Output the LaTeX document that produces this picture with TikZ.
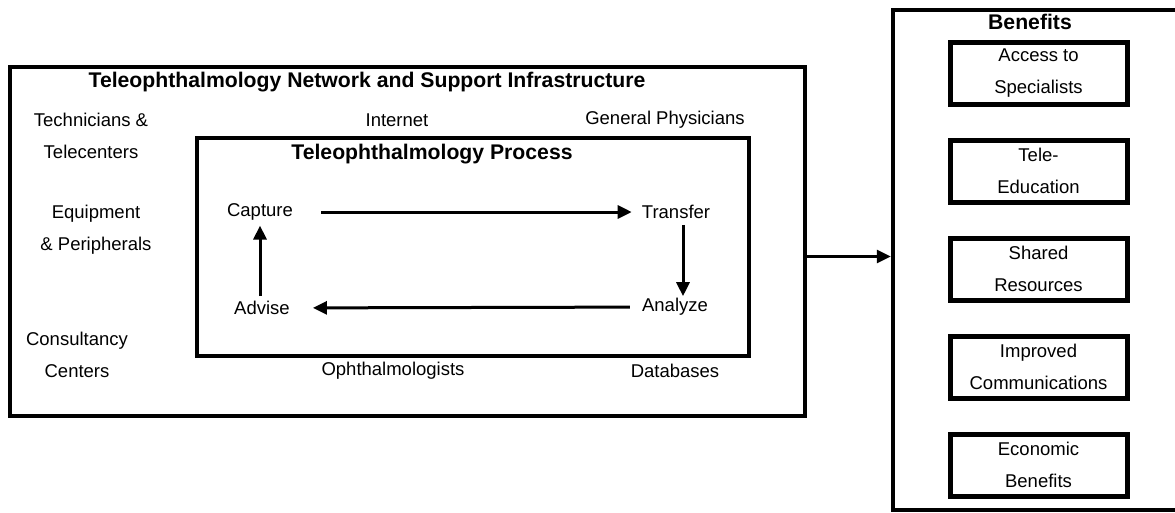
\documentclass[tikz,border=0pt]{standalone}
\usepackage{fontspec}
\setmainfont{Liberation Sans}
\usepackage{tikz}
\usetikzlibrary{arrows.meta, positioning}

\begin{document}
\begin{tikzpicture}[
        x=1pt, y=-1pt,
        >={Triangle[length=14pt, width=13pt]},
        every node/.style={font=\fontsize{18.5}{31.5}\selectfont},
        lbl/.style={align=center, inner sep=2pt},
        head/.style={font=\fontsize{21.2}{26}\selectfont\bfseries, inner sep=2pt},
        netbox/.style={rectangle, draw, line width=4.5pt, inner sep=0pt},
        itembox/.style={rectangle, draw, line width=5pt, align=center, minimum width=177pt, minimum height=62pt, inner sep=0pt},
        flow/.style={->, line width=3pt}
    ]
        \useasboundingbox (0,0) rectangle (1175,512);

        % boxes
        \node[netbox, minimum width=795pt, minimum height=349pt] (net) at (407.5,241.5) {};
        \node[netbox, minimum width=552pt, minimum height=218pt] (proc) at (473,247) {};
        \node[netbox, minimum width=300pt, minimum height=500pt] (ben) at (1043,260) {};

        % network and infrastructure
        \node[head] (nettitle) at (367,82) {Teleophthalmology Network and Support Infrastructure};
        \node[lbl] (tech) at (91,136) {Technicians \&\\Telecenters};
        \node[lbl] (equip) at (96,229.5) {Equipment\\\& Peripherals};
        \node[lbl] (consult) at (77,355) {Consultancy\\Centers};
        \node[lbl] (internet) at (397,120) {Internet};
        \node[lbl] (gp) at (665,120) {General Physicians};
        \node[lbl] (ophth) at (393,371) {Ophthalmologists};
        \node[lbl] (db) at (675,371) {Databases};

        % process
        \node[head] (proctitle) at (432,154) {Teleophthalmology Process};
        \node[lbl] (capture) at (260,212) {Capture};
        \node[lbl] (transfer) at (676,212) {Transfer};
        \node[lbl] (analyze) at (675,307) {Analyze};
        \node[lbl] (advise) at (262,308) {Advise};

        \draw[flow, shorten <=26pt, shorten >=8pt] (capture) -- (transfer);
        \draw[flow, shorten <=4pt, shorten >=0pt] ([xshift=7pt]transfer.south) -- ([xshift=8pt]analyze.north);
        \draw[flow, shorten <=10pt, shorten >=21pt] (analyze) -- (advise);
        \draw[flow, shorten <=3pt, shorten >=3pt] ([xshift=-2pt]advise.north) -- (capture.south);

        % benefits
        \node[head] (bentitle) at (1030,22) {Benefits};
        \node[itembox] (access) at (1038.5,73) {Access to\\Specialists};
        \node[itembox, below=31pt of access] (edu) {Tele-\\Education};
        \node[itembox, below=31pt of edu] (shared) {Shared\\Resources};
        \node[itembox, below=31pt of shared] (comm) {Improved\\Communications};
        \node[itembox, below=31pt of comm] (econ) {Economic\\Benefits};

        \draw[flow] ([yshift=-15pt]net.east) -- ([yshift=-15pt]net.east -| ben.west);
\end{tikzpicture}
\end{document}
